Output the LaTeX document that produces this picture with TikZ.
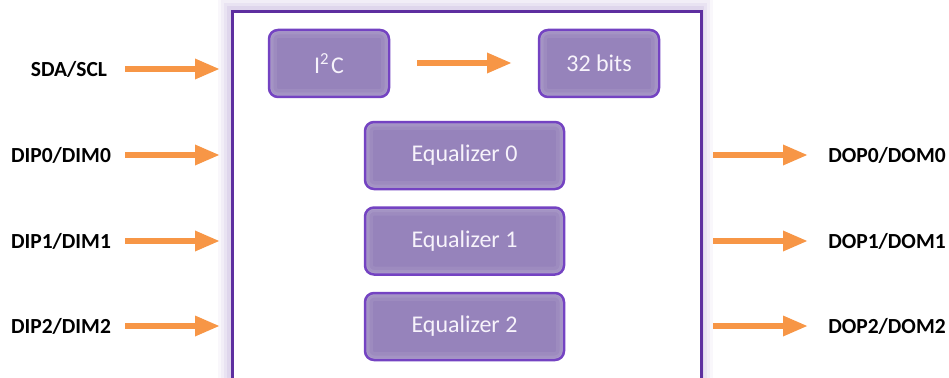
\documentclass[tikz,border=0pt]{standalone}
\usepackage{fontspec}
\setmainfont{Carlito}
\usetikzlibrary{arrows.meta}
\definecolor{boxfill}{HTML}{9683BB}
\definecolor{boxline}{HTML}{7443C2}
\definecolor{outline}{HTML}{5E2FA0}
\definecolor{arr}{HTML}{F79646}
\definecolor{txt}{HTML}{F7F3FB}
\tikzset{
  blk/.style={draw=boxline, fill=boxfill, line width=2.5pt, rounded corners=9pt,
    minimum height=67pt, inner sep=0pt, text=txt, font=\fontsize{24}{27}\selectfont,
    path picture={
      \draw[white, opacity=0.07, line width=16pt, rounded corners=9pt] (path picture bounding box.south west) rectangle (path picture bounding box.north east);
      \draw[white, opacity=0.08, line width=9pt, rounded corners=9pt] (path picture bounding box.south west) rectangle (path picture bounding box.north east);
      \draw[white, opacity=0.10, line width=4pt, rounded corners=9pt] (path picture bounding box.south west) rectangle (path picture bounding box.north east);
    }},
  lbl/.style={font=\fontsize{21.5}{24}\selectfont\bfseries, inner sep=0pt},
  sig/.style={draw=arr, line width=6pt, -{Triangle[length=25pt,width=19pt]}, shorten >=0pt}
}
\begin{document}
\begin{tikzpicture}[x=1pt,y=-1pt]
\useasboundingbox (0,0) rectangle (949,377);
\fill[white] (0,0) rectangle (949,377);
\clip (0,0) rectangle (949,377);
% outer box glow (outside only)
\foreach \w/\o in {13/0.035,10/0.045,7/0.055,4/0.07}{
  \draw[outline, opacity=\o, line width=2*\w pt] (231,10) rectangle (700,400);
}
\fill[white] (231,10) rectangle (700,400);
\node[draw=outline, line width=2.6pt, minimum width=469pt, minimum height=390pt, inner sep=0pt, anchor=north west] (chip) at (231,10) {};

\node[blk, minimum width=120pt] (i2c) at (329,63.5) {I\textsuperscript{2}\hspace{2pt}C};
\node[blk, minimum width=120pt] (bits) at (599,63.5) {32 bits};
\node[blk, minimum width=199pt] (eq0) at (464.5,155.5) {Equalizer 0};
\node[blk, minimum width=199pt] (eq1) at (464.5,241) {Equalizer 1};
\node[blk, minimum width=199pt] (eq2) at (464.5,326.5) {Equalizer 2};

\coordinate (m0) at (417,63);
\coordinate (m1) at (512,63);
\draw[sig] (m0) -- (m1);

\node[lbl] (sda) at (69,69) {SDA/SCL};
\node[lbl] (dip0) at (61,155) {DIP0/DIM0};
\node[lbl] (dip1) at (61,241) {DIP1/DIM1};
\node[lbl] (dip2) at (61,326) {DIP2/DIM2};
\node[lbl] (dop0) at (887,155) {DOP0/DOM0};
\node[lbl] (dop1) at (887,241) {DOP1/DOM1};
\node[lbl] (dop2) at (887,326) {DOP2/DOM2};

\coordinate (a0s) at (125,69);  \coordinate (a0e) at (220,69);
\coordinate (a1s) at (125,155); \coordinate (a1e) at (220,155);
\coordinate (a2s) at (125,241); \coordinate (a2e) at (220,241);
\coordinate (a3s) at (125,326); \coordinate (a3e) at (220,326);
\coordinate (b1s) at (713,155); \coordinate (b1e) at (808,155);
\coordinate (b2s) at (713,241); \coordinate (b2e) at (808,241);
\coordinate (b3s) at (713,326); \coordinate (b3e) at (808,326);
\draw[sig] (a0s) -- (a0e);
\draw[sig] (a1s) -- (a1e);
\draw[sig] (a2s) -- (a2e);
\draw[sig] (a3s) -- (a3e);
\draw[sig] (b1s) -- (b1e);
\draw[sig] (b2s) -- (b2e);
\draw[sig] (b3s) -- (b3e);
\end{tikzpicture}
\end{document}
